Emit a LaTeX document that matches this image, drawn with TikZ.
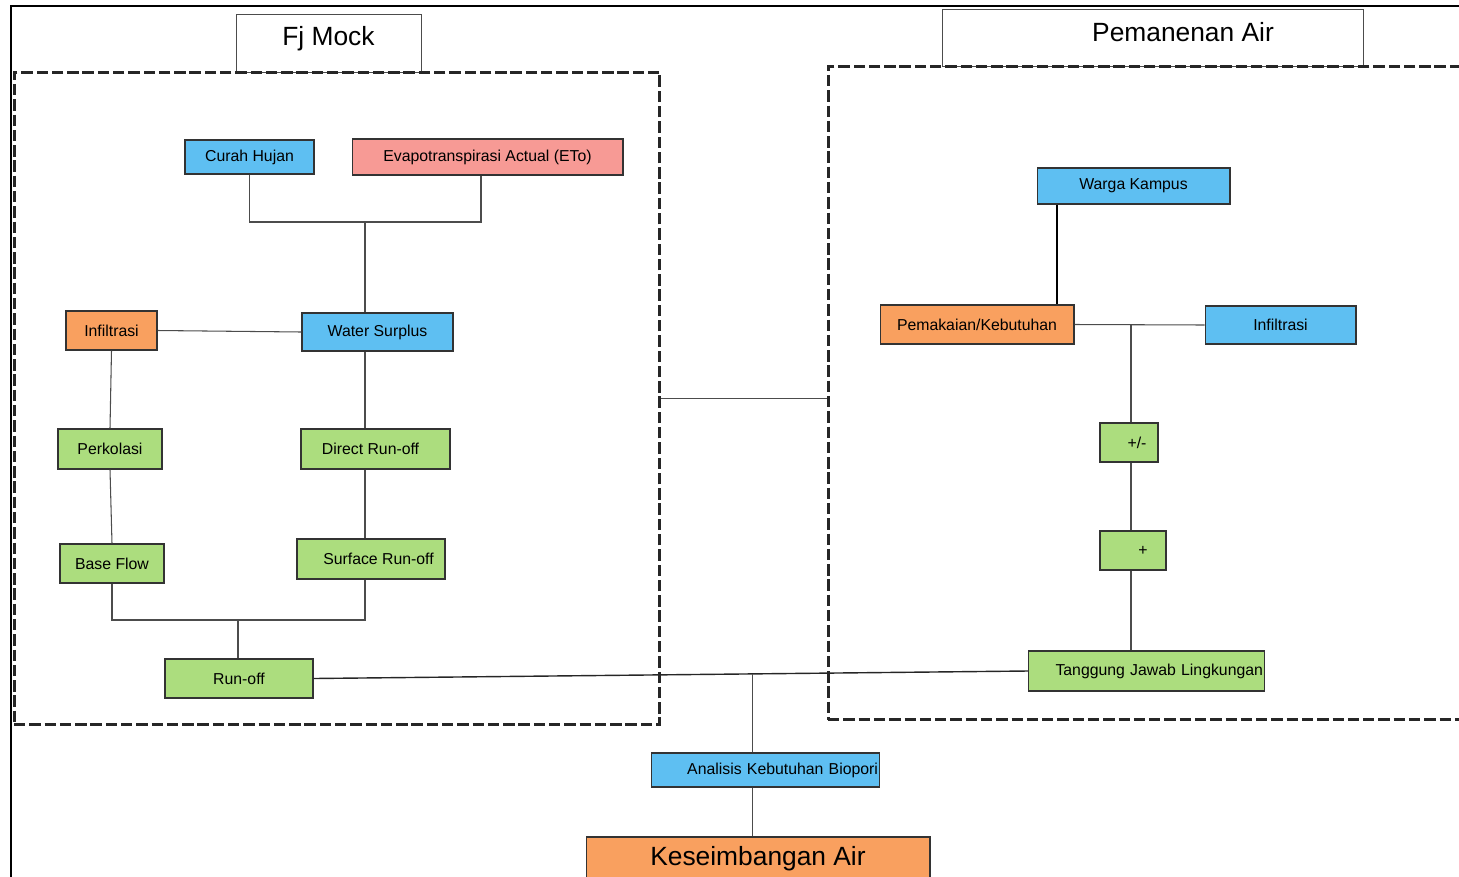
\documentclass[tikz,border=0pt]{standalone}
\usepackage{fontspec}
\setmainfont{Liberation Sans}
\usepackage{tikz}
\usetikzlibrary{calc}
\definecolor{skyblue}{HTML}{5EBFF2}
\definecolor{leaf}{HTML}{ACDD7E}
\definecolor{peach}{HTML}{F9A05F}
\definecolor{salmon}{HTML}{F79A95}

\begin{document}
\begin{tikzpicture}[
    x=0.02cm,y=-0.02cm,
    font=\fontsize{9}{10}\selectfont,
    box/.style={draw=black!80,line width=0.6pt,inner sep=1pt,align=center,
                minimum height=0.78cm},
    bluebox/.style={box,fill=skyblue},
    greenbox/.style={box,fill=leaf},
    orangebox/.style={box,fill=peach},
    pinkbox/.style={box,fill=salmon},
    title/.style={draw=black!70,line width=0.5pt,font=\fontsize{15}{18}\selectfont},
    frame/.style={draw=black!85,line width=1.7pt,dash pattern=on 6.5pt off 2.2pt},
    conn/.style={draw=black!70,line width=0.6pt},
  ]
  \clip (0,0) rectangle (1459,876);
  \draw[line width=1pt] (11,900) -- (11,6) -- (1480,6);

  % titles and group frames
  \node[title,minimum width=3.7cm,minimum height=1.16cm,text depth=0.3cm] (fjm) at (328.5,43) {Fj Mock};
  \node[title,minimum width=8.42cm,minimum height=1.14cm,text depth=0.22cm] (pma) at (1152.5,37.5)
    {\hspace*{1.22cm}Pemanenan Air};
  \node[frame,minimum width=12.92cm,minimum height=13.06cm] (mock) at (337,398.5) {};
  \node[frame,minimum width=12.94cm,minimum height=13.08cm] (harv) at (1151.5,393) {};
  \draw[conn] (mock.east) -- (mock.east -| harv.west);

  % Fj Mock side
  \node[bluebox,minimum width=2.58cm,minimum height=0.68cm] (ch) at (249.5,157) {Curah Hujan};
  \node[pinkbox,minimum width=5.42cm,minimum height=0.72cm] (eto) at (487.5,157) {Evapotranspirasi Actual (ETo)};
  \node[bluebox,minimum width=3.02cm,minimum height=0.76cm] (ws) at (377.5,332) {Water Surplus};
  \node[orangebox,minimum width=1.82cm] (infl) at (111.5,330.5) {Infiltrasi};
  \node[greenbox,minimum width=2.08cm,minimum height=0.8cm] (perk) at (110,449) {Perkolasi};
  \node[greenbox,minimum width=2.98cm,minimum height=0.8cm] (dro) at (375.5,449) {Direct Run-off\hspace*{0.2cm}};
  \node[greenbox,minimum width=2.08cm] (bf) at (112,563.5) {Base Flow};
  \node[greenbox,minimum width=2.96cm,minimum height=0.8cm] (sro) at (371,559) {\hspace*{0.3cm}Surface Run-off};
  \node[greenbox,minimum width=2.96cm] (ro) at (239,678.5) {Run-off};

  \coordinate (j1) at (365,222);
  \coordinate (j2) at (238,620);
  \draw[conn] (ch.south) |- (j1) -| ([xshift=-0.13cm]eto.south);
  \draw[conn] (j1) -- (j1 |- ws.north);
  \draw[conn] (infl.east) -- (ws.west);
  \draw[conn] (ws.south -| j1) -- (dro.north -| j1);
  \draw[conn] (dro.south -| j1) -- (sro.north -| j1);
  \draw[conn] (infl.south) -- (perk.north);
  \draw[conn] (perk.south) -- (bf.north);
  \draw[conn] (bf.south) |- (j2) -| (sro.south -| j1);
  \draw[conn] (j2) -- (j2 |- ro.north);

  % Pemanenan Air side
  \node[bluebox,minimum width=3.86cm,minimum height=0.72cm] (wk) at (1133.5,186) {Warga Kampus};
  \node[orangebox,minimum width=3.88cm] (pk) at (977,324.5) {Pemakaian/Kebutuhan};
  \node[bluebox,minimum width=3.02cm,minimum height=0.76cm] (infr) at (1280.5,325) {Infiltrasi};
  \node[greenbox,minimum width=1.16cm] (pm) at (1129,442.5) {\hspace*{0.32cm}+/-};
  \node[greenbox,minimum width=1.32cm] (pl) at (1133,550.5) {\hspace*{0.4cm}+};
  \node[greenbox,text width=4.66cm,align=right,minimum height=0.8cm] (tj) at (1146.5,671) {Tanggung Jawab Lingkungan};

  \coordinate (jr) at (1131,325);
  \draw[line width=1.1pt] ([xshift=-1.53cm]wk.south) -- ([xshift=-1.53cm]wk.south |- pk.north);
  \draw[conn] (pk.east) -- (infr.west);
  \draw[conn] (jr) -- (jr |- pm.north);
  \draw[conn] (jr |- pm.south) -- (jr |- pl.north);
  \draw[conn] (jr |- pl.south) -- (jr |- tj.north);

  % result
  \node[bluebox,text width=4.5cm,align=right,minimum height=0.68cm] (akb) at (765.5,770) {Analisis Kebutuhan Biopori};
  \node[orangebox,minimum width=6.88cm,minimum height=0.88cm,font=\fontsize{15}{18}\selectfont] (ka) at (758,859) {Keseimbangan Air};

  \coordinate (ja) at ($(ro.east)!0.615!(tj.west)$);
  \draw[line width=0.8pt,black!85] (ro.east) -- (tj.west);
  \draw[conn] (ja) -- (ja |- akb.north);
  \draw[conn] (akb.south -| ja) -- (ka.north -| ja);
\end{tikzpicture}
\end{document}
